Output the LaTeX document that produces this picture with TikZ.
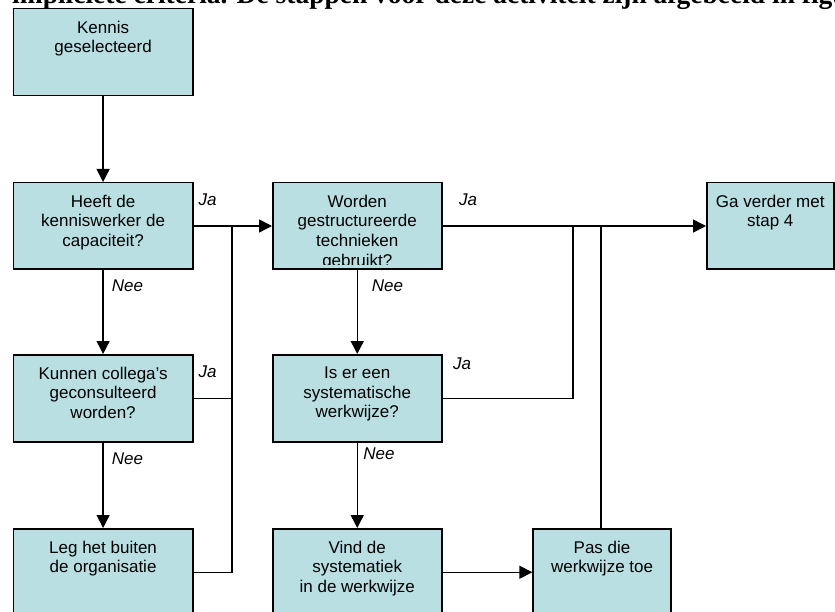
\documentclass[tikz,border=0pt]{standalone}
\usepackage{fontspec}
\setmainfont{Liberation Sans}
\newfontfamily\headfont{Liberation Serif}
\usetikzlibrary{arrows.meta}
\definecolor{boxfill}{RGB}{185,223,227}

\tikzset{
  flowbox/.style={draw=black, fill=boxfill, line width=1.5pt, rectangle,
    inner sep=0pt, anchor=north west},
  boxtext/.style={anchor=north, inner sep=0pt, align=center,
    font=\fontsize{17}{19.7}\selectfont},
  answer/.style={inner sep=0pt, font=\fontsize{17}{20}\selectfont\itshape},
  link/.style={line width=1.2pt},
  feed/.style={line width=1.5pt, -{Triangle[length=13pt,width=13pt]}},
  headline/.style={inner sep=0pt, anchor=base west,
    font=\headfont\bfseries\fontsize{27.5}{30}\selectfont},
}

\begin{document}
\begin{tikzpicture}[x=1pt,y=-1pt]
\clip (0,0) rectangle (835,612);

% running text line above the chart
\node[headline] (intro) at (12,4)
  {impliciete criteria. De stappen voor deze activiteit zijn afgebeeld in figuur};

% boxes
\node[flowbox, minimum width=179.3pt, minimum height=87pt] (kennis) at (12.7,8) {};
\node[flowbox, minimum width=179.3pt, minimum height=86.5pt] (heeft) at (12.7,182) {};
\node[flowbox, minimum width=179.3pt, minimum height=87pt] (kunnen) at (12.7,354) {};
\node[flowbox, minimum width=179.3pt, minimum height=87pt] (leg) at (12.7,528) {};
\node[flowbox, minimum width=169pt, minimum height=86.5pt] (worden) at (272,182) {};
\node[flowbox, minimum width=169pt, minimum height=87pt] (iser) at (272,354) {};
\node[flowbox, minimum width=169pt, minimum height=87pt] (vind) at (272,528) {};
\node[flowbox, minimum width=138pt, minimum height=87pt] (pas) at (532.3,528) {};
\node[flowbox, minimum width=127pt, minimum height=86.5pt] (verder) at (706,182) {};

% box texts
\node[boxtext] (kennisT) at ([yshift=-12.7pt]kennis.north) {Kennis\\geselecteerd};
\node[boxtext] (heeftT) at ([yshift=-12.7pt]heeft.north) {Heeft de\\kenniswerker de\\capaciteit?};
\node[boxtext] (kunnenT) at ([yshift=-12.7pt]kunnen.north) {Kunnen collega's\\geconsulteerd\\worden?};
\node[boxtext] (legT) at ([yshift=-12.7pt]leg.north) {Leg het buiten\\de organisatie};
\begin{scope}
  \clip (272,182) rectangle (441,265);
  \node[boxtext] (wordenT) at ([yshift=-12.7pt]worden.north)
    {Worden\\gestructureerde\\technieken\\gebruikt?};
\end{scope}
\node[boxtext] (iserT) at ([yshift=-12.7pt]iser.north) {Is er een\\systematische\\werkwijze?};
\node[boxtext] (vindT) at ([yshift=-12.7pt]vind.north) {Vind de\\systematiek\\in de werkwijze};
\node[boxtext] (pasT) at ([yshift=-12.7pt]pas.north) {Pas die\\werkwijze toe};
\node[boxtext] (verderT) at ([yshift=-12.7pt]verder.north) {Ga verder met\\stap 4};

% junction columns
\coordinate (busL) at (232,0);
\coordinate (busM) at (573,0);
\coordinate (busR) at (601,0);

% left column: downward path
\draw[feed] (kennis.south) -- (heeft.north);
\draw[feed] (heeft.south) -- (kunnen.north);
\draw[feed] (kunnen.south) -- (leg.north);

% left column: collecting line towards the second question
\draw[link] (heeft.east) -- (heeft.east -| busL);
\draw[link] (kunnen.east) -- (kunnen.east -| busL);
\draw[link] (leg.east) -- (leg.east -| busL) -- (heeft.east -| busL);
\draw[feed] (heeft.east -| busL) -- (worden.west);

% middle column
\draw[feed] (worden.south) -- (iser.north);
\draw[feed] (iser.south) -- (vind.north);
\draw[feed] (vind.east) -- (pas.west);

% right side: joining lines towards step 4
\draw[link] (worden.east) -- (worden.east -| busM);
\draw[link] (iser.east) -- (iser.east -| busM) -- (worden.east -| busM);
\draw[link] (pas.north -| busR) -- (worden.east -| busR);
\draw[feed] (worden.east -| busM) -- (verder.west);

% answer labels
\node[answer] (ja1) at (207.5,199.5) {Ja};
\node[answer] (nee1) at (127.5,285.5) {Nee};
\node[answer] (ja2) at (207.5,372) {Ja};
\node[answer] (nee2) at (127.5,459) {Nee};
\node[answer] (ja3) at (468,200) {Ja};
\node[answer] (nee3) at (387.5,285.5) {Nee};
\node[answer] (ja4) at (462,363.5) {Ja};
\node[answer] (nee4) at (379,454) {Nee};
\end{tikzpicture}
\end{document}
